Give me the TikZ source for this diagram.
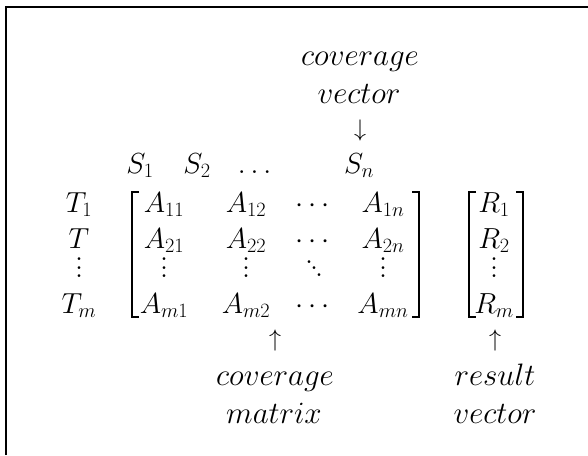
\RequirePackage{fix-cm}
\documentclass[tikz,border=0pt]{standalone}
\usepackage{amsmath}
\usepackage{tikz}
\tikzset{every node/.append style={font=\fontsize{29}{34}\selectfont, inner sep=0pt}}
\tikzset{word/.style={anchor=base, font=\fontsize{31}{36}\selectfont}}
\tikzset{entry/.style={anchor=base}}
\tikzset{pointer/.style={font=\fontsize{24}{28}\selectfont}}
\newcommand{\vdotsbig}{\vbox{\fontsize{34}{34}\selectfont\baselineskip=8.5pt \lineskiplimit=0pt \hbox{.}\hbox{.}\hbox{.}}}
\newcommand{\ddotsbig}{\hbox{\fontsize{34}{34}\selectfont\raise14pt\hbox{.}\kern-3.5pt\raise7.5pt\hbox{.}\kern-3.5pt\raise1pt\hbox{.}}}

\begin{document}
\begin{tikzpicture}[x=1pt, y=-1pt, line width=2pt]
    \useasboundingbox (0,0) rectangle (588,455);
    \draw (6,455) -- (6,7) -- (588,7);
    % labels above
    \node[word] (covtop) at (360,65) {$coverage$};
    \node[word] (vectop) at (359,103) {$vector$};
    \node[pointer] (down) at (360,130) {$\downarrow$};
    % column heads
    \node[entry] (s1) at (140,173) {$S_1$};
    \node[entry] (s2) at (197,173) {$S_2$};
    \node[entry] (sdots) at (257,173) {$\dots$};
    \node[entry] (sn) at (359,173) {$S_n$};
    % row heads
    \node[entry] (t1) at (79,212) {$T_1$};
    \node[entry] (t2) at (79,248) {$T$};
    \node (tdots) at (79,268) {\vdotsbig};
    \node[entry] (tm) at (79,313) {$T_m$};
    % matrix entries
    \foreach \c/\x in {1/164, 2/246} {
        \node[entry] (a1\c) at (\x,212) {$A_{1\c}$};
        \node[entry] (a2\c) at (\x,248) {$A_{2\c}$};
        \node (av\c) at (\x,268) {\vdotsbig};
        \node[entry] (am\c) at (\x,313) {$A_{m\c}$};
    }
    \node[entry] (c1) at (315,212) {$\cdots$};
    \node[entry] (c2) at (315,248) {$\cdots$};
    \node (dd) at (314,269) {\ddotsbig};
    \node[entry] (cm) at (315,313) {$\cdots$};
    \node[entry] (a1n) at (383,212) {$A_{1n}$};
    \node[entry] (a2n) at (383,248) {$A_{2n}$};
    \node (avn) at (383,268) {\vdotsbig};
    \node[entry] (amn) at (383,313) {$A_{mn}$};
    % result vector
    \node[entry] (r1) at (494,212) {$R_1$};
    \node[entry] (r2) at (494,248) {$R_2$};
    \node (rv) at (494,268) {\vdotsbig};
    \node[entry] (rm) at (494,313) {$R_m$};
    % brackets
    \draw (139,192) -- (132,192) -- (132,317) -- (139,317);
    \draw (412,192) -- (419,192) -- (419,317) -- (412,317);
    \draw (476,192) -- (469,192) -- (469,317) -- (476,317);
    \draw (516,192) -- (523,192) -- (523,317) -- (516,317);
    % labels below
    \node[pointer] (upa) at (275,340) {$\uparrow$};
    \node[word] (covbot) at (275,385) {$coverage$};
    \node[word] (matbot) at (274,423) {$matrix$};
    \node[pointer] (upr) at (495,340) {$\uparrow$};
    \node[word] (resbot) at (495,385) {$result$};
    \node[word] (vecbot) at (495,423) {$vector$};
\end{tikzpicture}
\end{document}
